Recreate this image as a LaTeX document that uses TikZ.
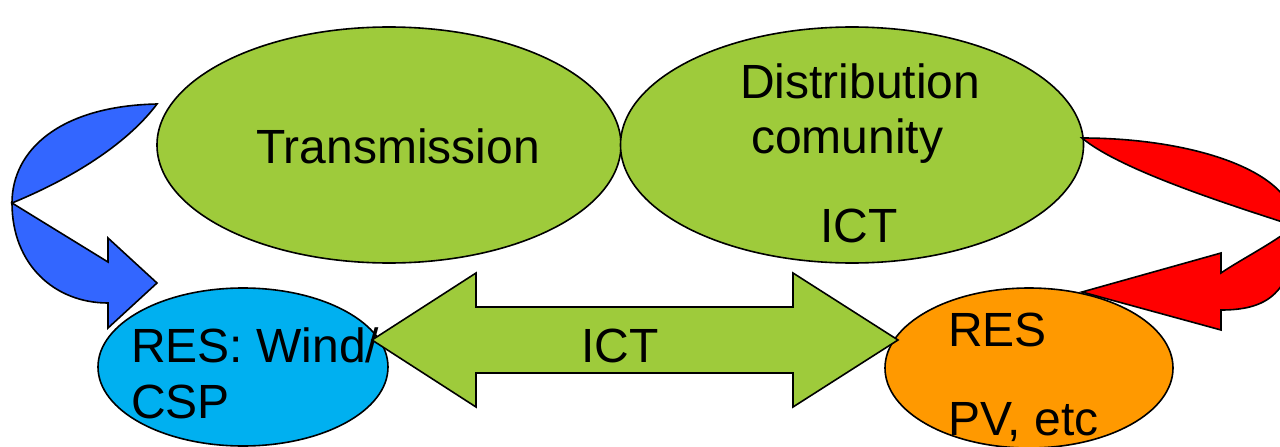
\documentclass[tikz,border=0pt]{standalone}
\usepackage{fontspec}
\setmainfont{Liberation Sans}
\usetikzlibrary{positioning,shapes.geometric}
\definecolor{leaf}{HTML}{9ECB3B}
\definecolor{sky}{HTML}{00B0F0}
\definecolor{amber}{HTML}{FF9900}
\definecolor{royal}{HTML}{3366FF}
\tikzset{
	blob/.style={ellipse,draw=black,line width=1.6pt,inner sep=0pt},
	lbl/.style={anchor=base west,inner sep=0pt,align=left,font=\fontsize{48}{56}\selectfont},
	flow/.style={draw=black,line width=1.6pt,line join=miter},
}
\begin{document}
\begin{tikzpicture}[x=1pt,y=-1pt]
	\clip (0,0) rectangle (1280,447);
	% the four sites
	\node[blob,fill=leaf,minimum width=464pt,minimum height=236pt] (trans) at (389,145) {};
	\node[blob,fill=leaf,minimum width=463pt,minimum height=236pt] (dist) at (852,145) {};
	\node[blob,fill=sky,minimum width=290pt,minimum height=158pt] (wind) at (243,367) {};
	\node[blob,fill=amber,minimum width=288pt,minimum height=160pt] (pv) at (1029,368) {};
	\node[lbl] (translbl) at (256,163) {Transmission};
	\node[lbl] (distlbl) at (740,98) {Distribution};
	\node[lbl] (comlbl) at (751,153) {comunity};
	\node[lbl] (distict) at (820,242) {ICT};
	\node[lbl] (windlbl) at (131,418) {RES: Wind/\\CSP};
	\node[lbl] (pvlbl) at (948,346) {RES};
	\node[lbl] (pvetc) at (948,435) {PV, etc};
	% curved arrows
	\draw[flow,fill=royal] (157,104) .. controls (60,106) and (12,150) .. (12,203)
		.. controls (12,265) and (55,303) .. (108,303) -- (108,328) -- (157,283) -- (108,238) -- (108,262)
		-- (12,203) .. controls (80,175) and (130,140) .. (157,104) -- cycle;
	\draw[flow,fill=red] (1082,138) .. controls (1190,138) and (1295,170) .. (1295,226)
		.. controls (1295,295) and (1265,310) .. (1221,310) -- (1221,330) -- (1082,292) -- (1221,253) -- (1221,273)
		.. controls (1240,260) and (1270,245) .. (1295,226) .. controls (1230,205) and (1120,170) .. (1082,138) -- cycle;
	% ICT link
	\draw[flow,fill=leaf] (372,340) -- (476,273) -- (476,307) -- (793,307) -- (793,273) -- (898,340)
		-- (793,407) -- (793,373) -- (476,373) -- (476,407) -- cycle;
	\node[lbl] (ictlbl) at (581,362) {ICT};
\end{tikzpicture}
\end{document}
